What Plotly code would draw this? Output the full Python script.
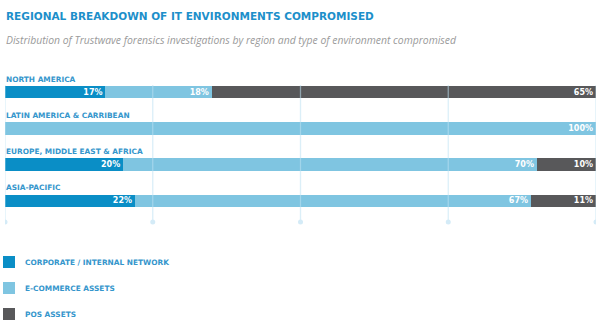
import plotly.graph_objects as go

# Share of forensic investigations per region, by type of environment compromised (%)
regions = ["NORTH AMERICA", "LATIN AMERICA & CARRIBEAN", "EUROPE, MIDDLE EAST & AFRICA", "ASIA-PACIFIC"]
corporate = [17, None, 20, 22]
ecommerce = [18, 100, 70, 67]
pos = [65, None, 10, 11]

series_names = ["CORPORATE / INTERNAL NETWORK", "E-COMMERCE ASSETS", "POS ASSETS"]
series_colors = ["#0a8ec6", "#7fc5e1", "#58585a"]
grid_ticks = [0, 25, 50, 75, 100]

title_text = "REGIONAL BREAKDOWN OF IT ENVIRONMENTS COMPROMISED"
subtitle_text = "Distribution of Trustwave forensics investigations by region and type of environment compromised"

W, H = 602, 326
BLUE = "#1d8fca"
LABEL_BLUE = "#3596cc"
CAPS_FONT = "DejaVu Sans"


def py(pixel_y):
    """Paper fraction for a vertical pixel position measured from the top."""
    return 1 - pixel_y / H


fig = go.Figure()
for name, vals, color in zip(series_names, [corporate, ecommerce, pos], series_colors):
    fig.add_trace(go.Bar(
        y=regions, x=vals, name=name, orientation="h",
        marker=dict(color=color, line=dict(width=0)),
        width=0.345,
        text=["" if v is None else f"{v}%" for v in vals],
        textposition="inside", insidetextanchor="end",
        textangle=0, constraintext="none",
        textfont=dict(family=CAPS_FONT, size=8, color="white", weight="bold"),
        showlegend=False,
        hoverinfo="skip",
    ))

# vertical guide lines drawn over the bars, ending in small dots
for t in grid_ticks:
    fig.add_shape(type="line", xref="x", yref="paper", x0=t, x1=t,
                  y0=py(222), y1=py(85), layer="above",
                  line=dict(color="rgba(190,225,242,0.55)", width=1.3))
    fig.add_shape(type="circle", xref="x", yref="paper",
                  xsizemode="pixel", ysizemode="pixel",
                  xanchor=t, yanchor=py(222),
                  x0=-2.5, x1=2.5, y0=-2.5, y1=2.5, layer="above",
                  fillcolor="#d4ebf7", line=dict(width=0))

# region names above each bar
for r in regions:
    fig.add_annotation(x=0, y=r, xref="x", yref="y", text=r, showarrow=False,
                       xanchor="left", yanchor="middle", yshift=13, xshift=-1,
                       font=dict(family=CAPS_FONT, size=7.4, color=LABEL_BLUE, weight="bold"))

# key: colour swatch plus series name, one row per series
for i, (name, color) in enumerate(zip(series_names, series_colors)):
    yc = py(262 + 26 * i)
    fig.add_shape(type="rect", xref="paper", yref="paper",
                  xsizemode="pixel", ysizemode="pixel", xanchor=0, yanchor=yc,
                  x0=-2, x1=10, y0=-6, y1=6, fillcolor=color, line=dict(width=0))
    fig.add_annotation(x=0, y=yc, xref="paper", yref="paper", text=name, showarrow=False,
                       xanchor="left", yanchor="middle", xshift=18,
                       font=dict(family=CAPS_FONT, size=7.4, color=LABEL_BLUE, weight="bold"))

fig.add_annotation(x=0, y=py(16), xref="paper", yref="paper", text=title_text,
                   showarrow=False, xanchor="left", yanchor="middle", xshift=-1,
                   font=dict(family=CAPS_FONT, size=10.5, color=BLUE, weight="bold"))
fig.add_annotation(x=0, y=py(40), xref="paper", yref="paper", text=subtitle_text,
                   showarrow=False, xanchor="left", yanchor="middle", xshift=-1,
                   font=dict(family="Open Sans", size=10.4, color="#9a9a9a", style="italic"))

px_per_cat = 36.33
first_center = 92
fig.update_layout(
    width=W, height=H,
    margin=dict(l=5, r=6, t=0, b=0),
    paper_bgcolor="white", plot_bgcolor="white",
    barmode="stack",
    xaxis=dict(range=[0, 100], showgrid=False, zeroline=False, showticklabels=False, fixedrange=True),
    yaxis=dict(type="category", categoryorder="array", categoryarray=regions,
               range=[(H - first_center) / px_per_cat, -first_center / px_per_cat],
               showgrid=False, zeroline=False, showticklabels=False, fixedrange=True),
    showlegend=False,
)

fig.write_html("out.html")
